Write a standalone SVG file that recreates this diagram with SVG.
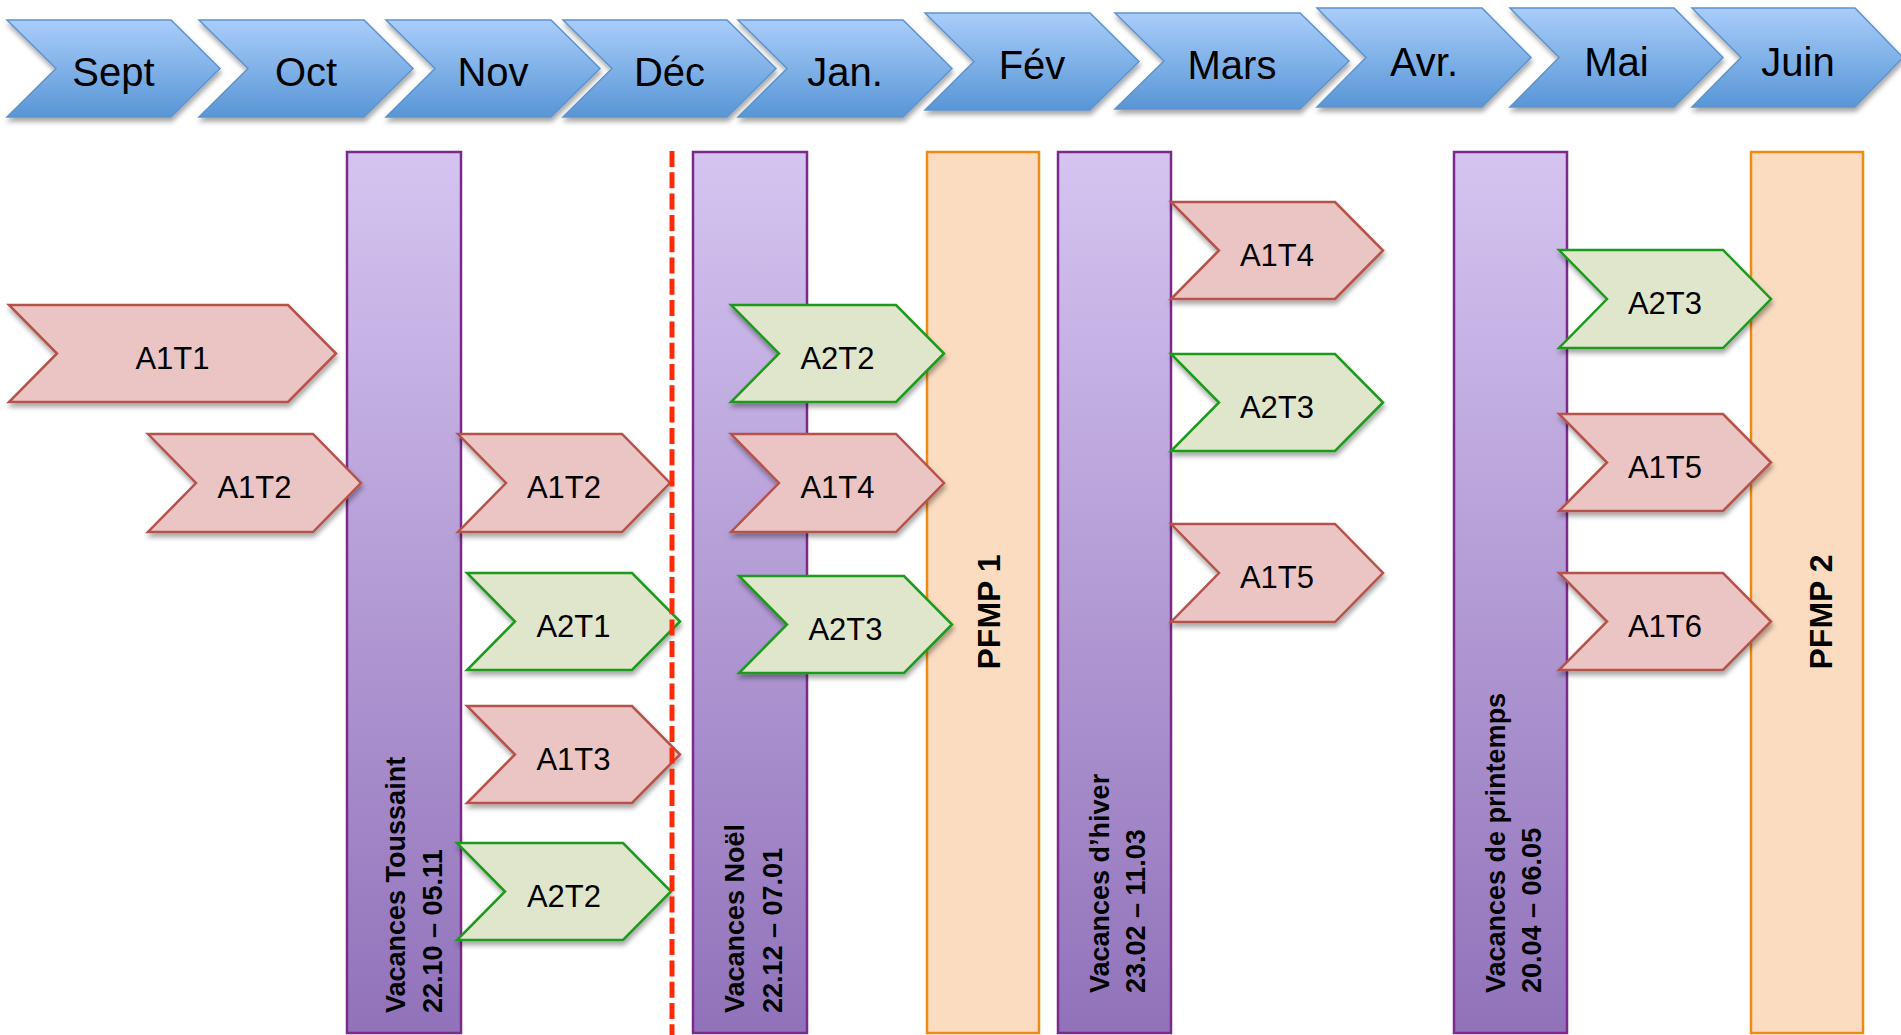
<svg xmlns="http://www.w3.org/2000/svg" width="1901" height="1035" viewBox="0 0 1901 1035">
<defs>
<linearGradient id="gMonth" x1="0" y1="0" x2="0" y2="1">
<stop offset="0" stop-color="#a9cdfa"/>
<stop offset="1" stop-color="#5896d6"/>
</linearGradient>
<linearGradient id="gVac" x1="0" y1="0" x2="0" y2="1">
<stop offset="0" stop-color="#d5c4f0"/>
<stop offset="1" stop-color="#9172ba"/>
</linearGradient>
<filter id="sh" x="-10%" y="-10%" width="125%" height="135%">
<feDropShadow dx="1" dy="4" stdDeviation="2.5" flood-color="#000" flood-opacity="0.35"/>
</filter>
<style>
.month polygon{fill:url(#gMonth);stroke:#5f93cc;stroke-width:1.5;filter:url(#sh)}
.month text{font-family:"Liberation Sans",Arial,sans-serif;font-size:40px;fill:#000;text-anchor:middle}
.vac rect{fill:url(#gVac);stroke:#7b2a8c;stroke-width:2.5}
.pfmp rect{fill:#fbdcc1;stroke:#ef8a12;stroke-width:2.5}
.vac text,.pfmp text{font-family:"Liberation Sans",Arial,sans-serif;font-weight:bold;fill:#000}
.vac text{font-size:27px}
.pfmp text{font-size:32px;text-anchor:middle}
.a1 polygon{fill:#ebc5c3;stroke:#b5534c;stroke-width:2.5;filter:url(#sh)}
.a2 polygon{fill:#dfe6cb;stroke:#1d9a1d;stroke-width:2.5;filter:url(#sh)}
.a1 text,.a2 text{font-family:"Liberation Sans",Arial,sans-serif;font-size:31px;fill:#000;text-anchor:middle}
</style>
</defs>
<rect width="1901" height="1035" fill="#fff"/>

<g id="months">
<g id="m-sept" class="month"><polygon points="7,20 171,20 220,68.5 171,117 7,117 56,68.5"/><text x="113.5" y="86">Sept</text></g>
<g id="m-oct" class="month"><polygon points="199,20 364,20 413,68.5 364,117 199,117 248,68.5"/><text x="306" y="86">Oct</text></g>
<g id="m-nov" class="month"><polygon points="386,20 551,20 600,68.5 551,117 386,117 435,68.5"/><text x="493" y="86">Nov</text></g>
<g id="m-dec" class="month"><polygon points="563,20 727,20 776,68.5 727,117 563,117 612,68.5"/><text x="669.5" y="86">Déc</text></g>
<g id="m-jan" class="month"><polygon points="738,20 903,20 952,68.5 903,117 738,117 787,68.5"/><text x="845" y="86">Jan.</text></g>
<g id="m-fev" class="month"><polygon points="925,13 1090,13 1139,61.5 1090,110 925,110 974,61.5"/><text x="1032" y="79">Fév</text></g>
<g id="m-mars" class="month"><polygon points="1115,13 1300,13 1349,61 1300,109 1115,109 1164,61"/><text x="1232" y="79">Mars</text></g>
<g id="m-avr" class="month"><polygon points="1317,8 1482,8 1531,57.5 1482,107 1317,107 1366,57.5"/><text x="1424" y="76">Avr.</text></g>
<g id="m-mai" class="month"><polygon points="1510,8 1674,8 1723,57.5 1674,107 1510,107 1559,57.5"/><text x="1616.5" y="76">Mai</text></g>
<g id="m-juin" class="month"><polygon points="1692,8 1855,8 1903,57.5 1855,107 1692,107 1741,57.5"/><text x="1798" y="76">Juin</text></g>
</g>

<g id="bars">
<g id="vac-toussaint" class="vac"><rect x="347" y="152" width="114" height="881"/>
<text transform="translate(405,1013) rotate(-90)">Vacances Toussaint</text>
<text transform="translate(442,1013) rotate(-90)">22.10 – 05.11</text></g>
<g id="vac-noel" class="vac"><rect x="693" y="152" width="114" height="881"/>
<text transform="translate(744,1013) rotate(-90)">Vacances Noël</text>
<text transform="translate(782,1013) rotate(-90)">22.12 – 07.01</text></g>
<g id="pfmp1" class="pfmp"><rect x="927" y="152" width="112" height="881"/>
<text transform="translate(1000,612) rotate(-90)">PFMP 1</text></g>
<g id="vac-hiver" class="vac"><rect x="1058" y="152" width="113" height="881"/>
<text transform="translate(1109,993) rotate(-90)">Vacances d’hiver</text>
<text transform="translate(1145,993) rotate(-90)">23.02 – 11.03</text></g>
<g id="vac-printemps" class="vac"><rect x="1454" y="152" width="113" height="881"/>
<text transform="translate(1505,993) rotate(-90)">Vacances de printemps</text>
<text transform="translate(1541,993) rotate(-90)">20.04 – 06.05</text></g>
<g id="pfmp2" class="pfmp"><rect x="1751" y="152" width="112" height="881"/>
<text transform="translate(1832,612) rotate(-90)">PFMP 2</text></g>
</g>

<g id="tasks">
<g id="t1" class="a1"><polygon points="9,305 288,305 336,353.5 288,402 9,402 57,353.5"/><text x="172.5" y="369">A1T1</text></g>
<g id="t2" class="a1"><polygon points="148,434 313,434 361,483 313,532 148,532 196,483"/><text x="254.5" y="498">A1T2</text></g>
<g id="t3" class="a1"><polygon points="458,434 622,434 670,483 622,532 458,532 506,483"/><text x="564" y="498">A1T2</text></g>
<g id="t4" class="a2"><polygon points="467,573 632,573 680,621.5 632,670 467,670 515,621.5"/><text x="573.5" y="637">A2T1</text></g>
<g id="t5" class="a1"><polygon points="467,706 632,706 680,754.5 632,803 467,803 515,754.5"/><text x="573.5" y="770">A1T3</text></g>
<g id="t6" class="a2"><polygon points="457,843 623,843 671,891.5 623,940 457,940 505,891.5"/><text x="564" y="907">A2T2</text></g>
<g id="t7" class="a2"><polygon points="731,305 896,305 944,353.5 896,402 731,402 779,353.5"/><text x="837.5" y="369">A2T2</text></g>
<g id="t8" class="a1"><polygon points="731,434 896,434 944,483 896,532 731,532 779,483"/><text x="837.5" y="498">A1T4</text></g>
<g id="t9" class="a2"><polygon points="739,576 904,576 952,624.5 904,673 739,673 787,624.5"/><text x="845.5" y="640">A2T3</text></g>
<g id="t10" class="a1"><polygon points="1171,202 1335,202 1383,250.5 1335,299 1171,299 1219,250.5"/><text x="1277" y="266">A1T4</text></g>
<g id="t11" class="a2"><polygon points="1171,354 1335,354 1383,402.5 1335,451 1171,451 1219,402.5"/><text x="1277" y="418">A2T3</text></g>
<g id="t12" class="a1"><polygon points="1171,524 1335,524 1383,573 1335,622 1171,622 1219,573"/><text x="1277" y="588">A1T5</text></g>
<g id="t13" class="a2"><polygon points="1559,250 1723,250 1771,299 1723,348 1559,348 1607,299"/><text x="1665" y="314">A2T3</text></g>
<g id="t14" class="a1"><polygon points="1559,414 1723,414 1771,462.5 1723,511 1559,511 1607,462.5"/><text x="1665" y="478">A1T5</text></g>
<g id="t15" class="a1"><polygon points="1559,573 1723,573 1771,621.5 1723,670 1559,670 1607,621.5"/><text x="1665" y="637">A1T6</text></g>
</g>

<g id="connectors">
<line x1="672" y1="151" x2="672" y2="1035" stroke="#ff2a08" stroke-width="5" stroke-dasharray="16,5.3"/>
</g>
</svg>
